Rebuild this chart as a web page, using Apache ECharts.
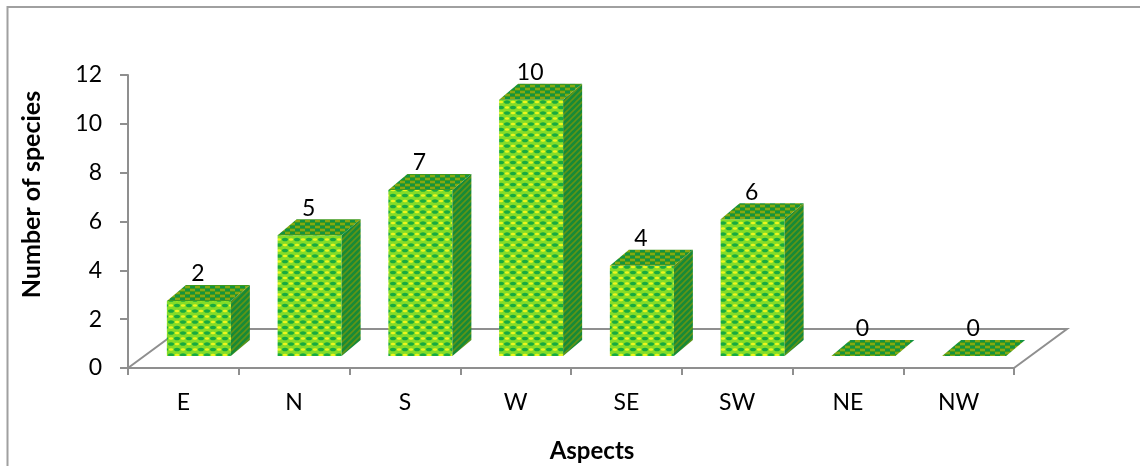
<!DOCTYPE html>
<html>
<head>
<meta charset="utf-8">
<style>html,body{margin:0;padding:0;background:#fff}#chart{width:1140px;height:466px}</style>
<script src="https://cdn.jsdelivr.net/npm/echarts@6/dist/echarts.min.js"></script>
</head>
<body>
<div id="chart"></div>
<script>
// aspects on the x axis
var categories = ['E', 'N', 'S', 'W', 'SE', 'SW', 'NE', 'NW'];
// numbers printed above the bars
var speciesLabels = [2, 5, 7, 10, 4, 6, 0, 0];
// bar heights as drawn (they differ a little from the printed numbers)
var barHeights = [2.25, 4.95, 6.8, 10.5, 3.7, 5.6, 0, 0];
var yTicks = [0, 2, 4, 6, 8, 10, 12];

function swatch(w, h, paint) {
  var c = document.createElement('canvas');
  c.width = w;
  c.height = h;
  paint(c.getContext('2d'));
  return c;
}

function dot(g, color, x, y, rx, ry) {
  g.fillStyle = color;
  g.beginPath();
  g.ellipse(x, y, rx, ry, 0, 0, Math.PI * 2);
  g.fill();
}

// front face: yellow and green scales, staggered row by row
var frontFill = {
  image: swatch(12, 11, function (g) {
    g.fillStyle = '#84dc28';
    g.fillRect(0, 0, 12, 11);
    dot(g, '#18aa40', 3, 3, 3, 1.8);
    dot(g, '#eef61e', 9, 3, 2.2, 1.3);
    dot(g, '#18aa40', 9, 8.5, 3, 1.8);
    dot(g, '#eef61e', 3, 8.5, 2.2, 1.3);
  }),
  repeat: 'repeat'
};

// side face: dark diagonal weave
var sideFill = {
  image: swatch(6, 6, function (g) {
    g.fillStyle = '#178a38';
    g.fillRect(0, 0, 6, 6);
    g.strokeStyle = '#5f9416';
    g.lineWidth = 1.6;
    g.beginPath();
    g.moveTo(-1, 7); g.lineTo(7, -1);
    g.moveTo(-4, 4); g.lineTo(4, -4);
    g.moveTo(2, 10); g.lineTo(10, 2);
    g.stroke();
  }),
  repeat: 'repeat'
};

// top face and the flat zero bars
var topFill = {
  image: swatch(10, 6, function (g) {
    g.fillStyle = '#3f9a1e';
    g.fillRect(0, 0, 10, 6);
    g.fillStyle = '#86a812';
    g.fillRect(0, 1, 5, 2);
    g.fillRect(5, 4, 5, 2);
    g.fillStyle = '#149340';
    g.fillRect(5, 1, 5, 2);
    g.fillRect(0, 4, 5, 2);
  }),
  repeat: 'repeat'
};

function poly(points, fill) {
  return { type: 'polygon', shape: { points: points }, style: { fill: fill, stroke: null } };
}

function renderBar(params, api) {
  var zero = api.coord([api.value(0), 0]);
  var top = api.coord([api.value(0), api.value(1)]);
  var band = api.size([1, 0])[0];
  var w = band * 0.578;
  var l = zero[0] - w / 2 + 15.5;
  var r = l + w;
  var by = zero[1] - 12;
  var ty = top[1] - 12;
  var dx = 19, dy = 16;
  var kids = [];
  if (by - ty > 0) {
    kids.push(poly([[l, ty], [r, ty], [r, by], [l, by]], frontFill));
    kids.push(poly([[r, ty], [r + dx, ty - dy], [r + dx, by - dy], [r, by]], sideFill));
  }
  kids.push(poly([[l, ty], [r, ty], [r + dx, ty - dy], [l + dx, ty - dy]], topFill));
  kids.push({
    type: 'text',
    z2: 5,
    style: {
      text: String(speciesLabels[params.dataIndex]),
      x: l + w / 2 - 1,
      y: ty - 27,
      align: 'center',
      verticalAlign: 'middle',
      fill: '#000',
      font: '23px Lato'
    }
  });
  return { type: 'group', children: kids };
}

// floor of the 3d box, behind the bars
function renderFloor(params, api) {
  var c = params.coordSys;
  var b = c.y + c.height;
  return {
    type: 'polyline',
    shape: { points: [[c.x, b], [c.x + 53, b - 39], [c.x + c.width + 53, b - 39], [c.x + c.width, b]] },
    style: { fill: null, stroke: '#8f8f8f', lineWidth: 2 }
  };
}

var chart = echarts.init(document.getElementById('chart'));

chart.setOption({
  animation: false,
  backgroundColor: '#fff',
  grid: { left: 128, right: 126, top: 75, bottom: 98, outerBoundsMode: 'none' },
  graphic: [{
    type: 'rect',
    silent: true,
    shape: { x: 7.5, y: 7, width: 1200, height: 500 },
    style: { fill: null, stroke: '#a0a0a0', lineWidth: 2 }
  }],
  xAxis: {
    type: 'category',
    data: categories,
    name: 'Aspects',
    nameLocation: 'middle',
    nameGap: 71,
    nameTextStyle: { fontFamily: 'Lato', fontWeight: 'bold', fontSize: 24, color: '#000', padding: [0, 0, 0, 42] },
    axisLine: { lineStyle: { color: '#8f8f8f', width: 2 } },
    axisTick: { show: true, alignWithLabel: false, length: 7, lineStyle: { color: '#8f8f8f', width: 2 } },
    axisLabel: { fontFamily: 'Lato', fontSize: 23, color: '#000', margin: 23 }
  },
  yAxis: {
    type: 'value',
    min: yTicks[0],
    max: yTicks[yTicks.length - 1],
    interval: 2,
    name: 'Number of species',
    nameLocation: 'middle',
    nameGap: 84,
    nameTextStyle: { fontFamily: 'Lato', fontWeight: 'bold', fontSize: 25, color: '#000', padding: [0, 0, 0, 54] },
    splitLine: { show: false },
    axisLine: { show: true, lineStyle: { color: '#8f8f8f', width: 2 } },
    axisTick: { show: true, length: 8, lineStyle: { color: '#8f8f8f', width: 2 } },
    axisLabel: { fontFamily: 'Lato', fontSize: 23, color: '#000', margin: 26 }
  },
  series: [
    { type: 'custom', silent: true, z: 1, renderItem: renderFloor, data: [0], encode: { x: 0 }, clip: false },
    {
      type: 'custom',
      silent: true,
      z: 2,
      renderItem: renderBar,
      clip: false,
      encode: { x: 0, y: 1 },
      data: categories.map(function (name, i) { return [i, barHeights[i]]; })
    }
  ]
});
</script>
</body>
</html>
